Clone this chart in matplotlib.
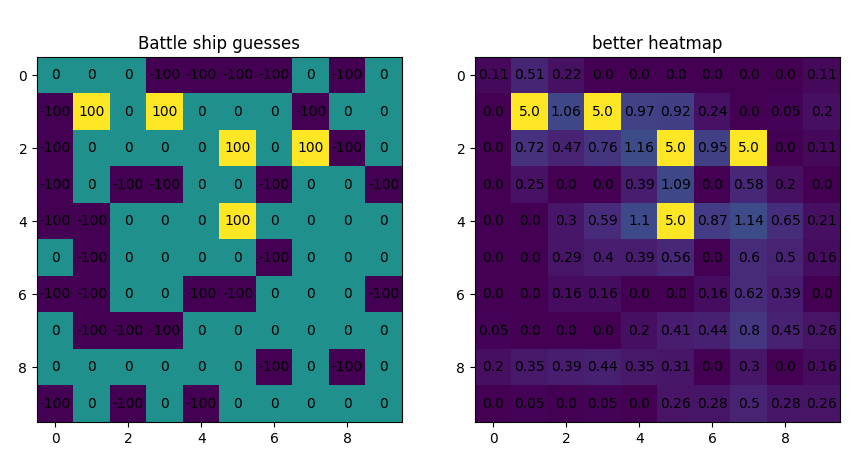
import numpy as np
import matplotlib
matplotlib.use('Agg')
from matplotlib import pyplot as plt

guesses = [
    [0, 0, 0, -100, -100, -100, -100, 0, -100, 0],
    [-100, 100, 0, 100, 0, 0, 0, -100, 0, 0],
    [-100, 0, 0, 0, 0, 100, 0, 100, -100, 0],
    [-100, 0, -100, -100, 0, 0, -100, 0, 0, -100],
    [-100, -100, 0, 0, 0, 100, 0, 0, 0, 0],
    [0, -100, 0, 0, 0, 0, -100, 0, 0, 0],
    [-100, -100, 0, 0, -100, -100, 0, 0, 0, -100],
    [0, -100, -100, -100, 0, 0, 0, 0, 0, 0],
    [0, 0, 0, 0, 0, 0, -100, 0, -100, 0],
    [-100, 0, -100, 0, -100, 0, 0, 0, 0, 0],
]

heat = [
    [0.11, 0.51, 0.22, 0.0, 0.0, 0.0, 0.0, 0.0, 0.0, 0.11],
    [0.0, 5.0, 1.06, 5.0, 0.97, 0.92, 0.24, 0.0, 0.05, 0.2],
    [0.0, 0.72, 0.47, 0.76, 1.16, 5.0, 0.95, 5.0, 0.0, 0.11],
    [0.0, 0.25, 0.0, 0.0, 0.39, 1.09, 0.0, 0.58, 0.2, 0.0],
    [0.0, 0.0, 0.3, 0.59, 1.1, 5.0, 0.87, 1.14, 0.65, 0.21],
    [0.0, 0.0, 0.29, 0.4, 0.39, 0.56, 0.0, 0.6, 0.5, 0.16],
    [0.0, 0.0, 0.16, 0.16, 0.0, 0.0, 0.16, 0.62, 0.39, 0.0],
    [0.05, 0.0, 0.0, 0.0, 0.2, 0.41, 0.44, 0.8, 0.45, 0.26],
    [0.2, 0.35, 0.39, 0.44, 0.35, 0.31, 0.0, 0.3, 0.0, 0.16],
    [0.0, 0.05, 0.0, 0.05, 0.0, 0.26, 0.28, 0.5, 0.28, 0.26],
]

fig = plt.figure(figsize=(8.61, 4.71), dpi=100)
ax1 = fig.add_axes([37 / 861, 1 - 422 / 471, 365 / 861, 365 / 471])
ax2 = fig.add_axes([475 / 861, 1 - 422 / 471, 365 / 861, 365 / 471])

for ax, data, title in [(ax1, guesses, 'Battle ship guesses'), (ax2, heat, 'better heatmap')]:
    arr = np.array(data)
    ax.imshow(arr, cmap='viridis')
    for i in range(arr.shape[0]):
        for j in range(arr.shape[1]):
            ax.text(j, i, str(data[i][j]), ha='center', va='center', color='k')
    ax.set_title(title)

fig.savefig('out.png')
